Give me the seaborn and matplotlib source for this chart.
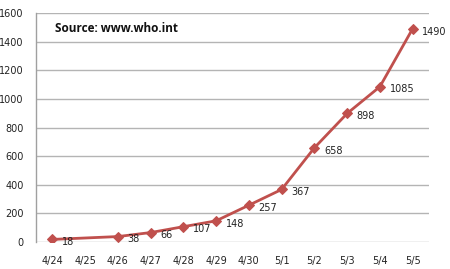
import matplotlib
matplotlib.use("Agg")
import matplotlib.pyplot as plt
import seaborn as sns
import numpy as np
import pandas as pd

dates = ["4/24", "4/25", "4/26", "4/27", "4/28", "4/29", "4/30", "5/1", "5/2", "5/3", "5/4", "5/5"]
cases = [18, np.nan, 38, 66, 107, 148, 257, 367, 658, 898, 1085, 1490]
yticks = [0, 200, 400, 600, 800, 1000, 1200, 1400, 1600]
title = "Source: www.who.int"

sns.set_theme(style="white")
plt.rcParams['font.family'] = ['DejaVu Sans']

df = pd.DataFrame({"pos": np.arange(len(dates)), "date": dates, "cases": cases}).dropna()

fig = plt.figure(figsize=(4.5, 2.69), dpi=100)
ax = fig.add_axes([36/450, 1 - 242/269, (429-36)/450, (242-13)/269])

color = "#c0504d"
sns.lineplot(data=df, x="pos", y="cases", ax=ax, color=color, linewidth=2,
             marker="D", markersize=5.5, markeredgecolor=color, markerfacecolor=color)

for p, v in zip(df["pos"], df["cases"]):
    ax.annotate(f"{int(v)}", (p, v), xytext=(7, -2), textcoords="offset points",
                ha="left", va="center", fontsize=7, color="#222222")

ax.set_xlim(-0.5, len(dates) - 0.5)
ax.set_ylim(0, 1600)
ax.set_xticks(range(len(dates)))
ax.set_xticklabels(dates, fontsize=7, color="#222222")
ax.set_yticks(yticks)
ax.set_yticklabels([str(t) for t in yticks], fontsize=7, color="#222222")
ax.tick_params(axis="both", length=0)
ax.tick_params(axis="y", pad=9)
ax.tick_params(axis="x", pad=10)
ax.grid(axis="y", color="#b4b4b4", linewidth=1)
ax.set_axisbelow(True)
for s in ["top", "right", "bottom"]:
    ax.spines[s].set_visible(False)
ax.spines["left"].set_color("#a0a0a0")
ax.spines["left"].set_linewidth(1)
ax.set_xlabel("")
ax.set_ylabel("")

ax.text(55/450, 1 - 28/269, title, transform=fig.transFigure, fontsize=8.5,
        fontweight="bold", ha="left", va="center", color="#111111", family=["Open Sans", "DejaVu Sans"])

fig.savefig("out.png", dpi=100)
